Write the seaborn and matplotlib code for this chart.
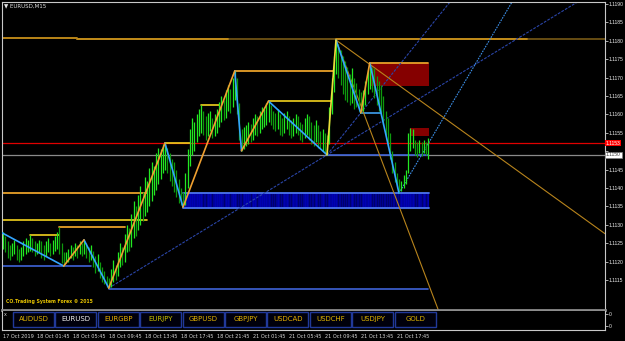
import matplotlib
matplotlib.use("Agg")
import numpy as np
import pandas as pd
import matplotlib.pyplot as plt
import matplotlib.transforms as mtransforms
from matplotlib import font_manager
from matplotlib.patches import Rectangle
import seaborn as sns

# ---------------- data ----------------
symbol_title = "EURUSD,M15"
base_price = 1.1100
pip = 0.0001

bar_high_pips = [
    28.0, 27.0, 25.5, 24.5, 25.0, 26.0, 24.5, 23.5, 24.0, 25.5, 26.5, 26.0,
    27.2, 26.5, 25.5, 25.0, 26.0, 25.5, 24.5, 25.5, 26.5, 25.0, 26.0, 27.0, 28.0, 29.4, 25.0, 22.5,
    22.5, 23.5, 24.5, 24.0, 25.0, 24.5, 25.5, 25.0, 26.0, 25.0, 24.0, 24.5, 23.0, 21.5, 22.0, 20.0, 18.5, 17.5, 16.0, 15.5,
    18.0, 20.5, 19.0, 22.5, 25.0, 24.0, 27.5, 30.0, 29.0, 33.0, 36.5, 35.0, 38.0, 40.5, 39.0, 43.0, 42.0, 45.5, 47.0, 46.0, 49.5, 51.0, 50.5, 52.0, 52.2,
    51.0, 49.5, 48.0, 47.0, 45.0, 42.5, 40.0, 39.0,
    44.0, 50.5, 56.0, 59.0, 58.0, 60.0, 61.5, 62.6, 61.0, 59.5, 60.5, 61.0, 59.0, 60.0, 61.5, 63.5, 65.0, 64.0, 66.5, 68.0, 67.0, 70.0, 71.8,
    70.0, 63.0, 56.0,
    56.5, 57.0, 58.0, 57.5, 59.0, 60.0, 59.5, 61.0, 62.0, 61.5, 63.0, 63.6,
    62.5, 61.0, 60.5, 61.5, 60.0, 59.0, 60.5, 61.0, 59.5, 58.5, 59.0, 60.0, 59.5, 58.0, 57.5, 59.0, 60.0, 59.5, 58.0, 57.0, 58.5, 57.0, 55.5, 56.0, 55.0, 54.5,
    62.0, 70.0, 76.0, 80.2,
    79.0, 77.5, 76.0, 74.5, 73.0, 71.0, 72.5, 70.0, 68.5, 67.0, 66.0,
    66.5, 69.0, 72.0, 74.0,
    73.0, 72.5, 70.5, 69.0, 68.0, 65.0, 61.0, 59.0, 55.0, 50.0, 47.0, 44.0, 42.5,
    42.0, 43.5, 45.0, 55.0, 56.3, 56.0, 53.0, 52.5, 53.0, 52.5, 53.0, 52.5, 53.5,
]
bar_low_pips = [
    23.5, 22.5, 21.0, 20.5, 21.5, 22.0, 20.5, 20.0, 20.5, 21.5, 22.0, 22.5,
    23.0, 22.5, 21.5, 22.0, 22.5, 21.0, 20.5, 21.5, 22.5, 21.5, 22.0, 23.0, 23.5, 22.0, 19.5, 18.8,
    19.5, 20.0, 21.0, 20.5, 21.5, 21.0, 22.0, 21.5, 22.0, 21.0, 20.0, 20.5, 18.5, 17.0, 17.5, 15.5, 14.5, 14.0, 13.2, 12.8,
    13.0, 14.5, 15.0, 16.0, 18.5, 19.0, 20.0, 22.5, 23.0, 24.0, 26.5, 27.0, 28.5, 30.0, 31.0, 32.5, 33.5, 35.0, 36.5, 38.0, 39.5, 41.0, 42.5, 44.0, 45.0,
    44.0, 42.0, 40.5, 39.0, 37.5, 36.0, 35.5, 34.8,
    35.5, 40.0, 46.0, 49.0, 50.0, 52.5, 54.0, 55.0, 54.5, 53.0, 54.0, 55.5, 53.5, 54.0, 55.0, 56.5, 58.0, 58.5, 59.0, 61.0, 60.5, 62.0, 64.0,
    60.0, 53.0, 50.1,
    50.5, 51.5, 52.0, 52.5, 53.0, 54.5, 54.0, 55.0, 56.0, 56.5, 57.0, 58.0,
    57.0, 56.0, 55.5, 56.0, 54.5, 54.0, 55.0, 56.0, 54.5, 53.5, 54.0, 55.0, 54.5, 53.0, 52.5, 53.5, 54.5, 53.0, 52.0, 51.5, 52.5, 51.0, 50.5, 50.0, 49.5, 49.0,
    52.0, 60.0, 66.0, 71.0,
    70.0, 68.0, 65.5, 64.0, 63.5, 62.5, 63.0, 61.5, 62.0, 61.0, 60.4,
    61.0, 62.5, 65.5, 67.0,
    66.0, 64.5, 62.5, 61.0, 60.0, 57.0, 54.5, 51.5, 48.0, 44.0, 41.5, 40.0, 38.6,
    39.2, 40.0, 41.0, 44.0, 50.0, 51.0, 49.0, 48.5, 49.5, 48.8, 49.5, 49.0, 48.0,
]

zigzag_bar = [-1, 27, 36, 47, 72, 80, 103, 106, 118, 144, 148, 159, 163, 176]
zigzag_pips = [28.0, 18.8, 25.9, 12.8, 52.2, 34.8, 71.8, 50.1, 63.6, 49.0, 80.2, 60.4, 74.0, 38.6]

level_from = [-1, 33, 33, 148, -1, 47, 144, 159, -1, -1, 12, 25, 72, 88, 103, 118, 163]
level_to = [33, 268, 100, 233, 39, 189, 189, 168, 64, 64, 25, 54, 83, 96, 147, 146, 189]
level_pips = [80.7, 80.4, 80.4, 80.4, 18.8, 12.6, 49.0, 60.4, 38.6, 31.3, 27.2, 29.4, 52.2, 62.6, 71.8, 63.6, 74.0]
level_style = ["gold", "brown", "gold", "gold", "blue", "blue", "blue", "lightblue",
               "orange", "yellow", "yellow", "orange", "yellow", "yellow", "orange", "yellow", "orange"]

trend_bar_a = [47, 144, 176, 148, 148]
trend_pips_a = [12.8, 49.0, 38.6, 80.2, 80.2]
trend_bar_b = [144, 159, 226, 260, 194]
trend_pips_b = [49.0, 60.4, 90.3, 30.9, 6.0]
trend_style = ["dash", "dash", "dot", "tan", "tan"]

zone_from = [163, 181, 80]
zone_to = [189, 189, 189]
zone_low_pips = [67.7, 54.1, 34.6]
zone_high_pips = [74.0, 56.3, 38.6]
zone_kind = ["supply", "supply", "demand"]

bid_pips = 52.2
bid_label = "1.1153"
ref_pips = 49.0
ref_label = "1.1150"

price_tick_labels = ["1.1115", "1.1120", "1.1125", "1.1130", "1.1135", "1.1140", "1.1145",
                     "1.1150", "1.1155", "1.1160", "1.1165", "1.1170", "1.1175", "1.1180",
                     "1.1185", "1.1190"]
time_tick_bars = [0, 15, 31, 47, 63, 79, 95, 111, 127, 143, 159, 175]
time_tick_labels = ["17 Oct 2019", "18 Oct 01:45", "18 Oct 05:45", "18 Oct 09:45", "18 Oct 13:45",
                    "18 Oct 17:45", "18 Oct 21:45", "21 Oct 01:45", "21 Oct 05:45", "21 Oct 09:45",
                    "21 Oct 13:45", "21 Oct 17:45"]
buttons = ["AUDUSD", "EURUSD", "EURGBP", "EURJPY", "GBPUSD", "GBPJPY", "USDCAD", "USDCHF", "USDJPY", "GOLD"]
button_text_colors = ["#E0B400", "#F0F0F0", "#E8B000", "#C8C000", "#E0B000", "#E0B000",
                      "#E8B000", "#E0B400", "#E0B400", "#E0B400"]
sub_tick_labels = ["0", "0"]
watermark = "CO.Trading System Forex \u00a9 2015"

# ---------------- styles ----------------
level_colors = {"gold": "#C8901A", "brown": "#6E5214", "blue": "#3F63D8", "lightblue": "#3FA0F0",
                "orange": "#E8A028", "yellow": "#F2D21E"}
trend_colors = {"dash": "#2A45A8", "dot": "#3C8EE6", "tan": "#B8841C"}
trend_ls = {"dash": (0, (2.5, 1.2)), "dot": (0, (1.5, 1.0)), "tan": "-"}

sns.set_theme(style="dark", rc={"axes.facecolor": "black", "figure.facecolor": "black"})
plt.rcParams["font.family"] = ["DejaVu Sans"]

installed = {f.name for f in font_manager.fontManager.ttflist}
if "Liberation Sans Narrow" in installed:
    axis_font, axis_size = "Liberation Sans Narrow", 4.2
elif "Liberation Sans" in installed:
    axis_font, axis_size = "Liberation Sans", 3.6
else:
    axis_font, axis_size = "DejaVu Sans", 3.2

W, H = 625, 341
def fx(px):
    return px / W
def fy(py):
    return 1 - py / H

fig = plt.figure(figsize=(W / 100, H / 100), dpi=100, facecolor="black")
ax = fig.add_axes([fx(2), fy(309.5), fx(605) - fx(2), fy(2) - fy(309.5)])
ax2 = fig.add_axes([fx(2), fy(329.5), fx(605) - fx(2), fy(311) - fy(329.5)])

def to_price(p):
    return base_price + np.asarray(p, dtype=float) * pip

xlim = (-1 / 2.25, -1 / 2.25 + 603 / 2.25)
for a in (ax, ax2):
    a.set_facecolor("black")
    a.set_xlim(*xlim)
    a.grid(False)
ax.set_ylim(base_price + 6.98 * pip, base_price + 90.54 * pip)

highs = to_price(bar_high_pips)
lows = to_price(bar_low_pips)
idx = np.arange(len(highs))
mids = (highs + lows) / 2
up = np.concatenate([[True], mids[1:] >= mids[:-1]])

# zones
for f, t, lo, hi, kind in zip(zone_from, zone_to, zone_low_pips, zone_high_pips, zone_kind):
    if kind == "supply":
        ax.add_patch(Rectangle((f, to_price(lo)), t + 0.4 - f, (hi - lo) * pip,
                               fc="#850000", ec="none", zorder=1))
    else:
        ax.add_patch(Rectangle((f, to_price(lo)), t + 0.4 - f, (hi - lo) * pip,
                               fc="#00009E", ec="none", zorder=1))
        m = (idx >= f) & (idx <= t)
        ax.vlines(idx[m], to_price(lo), to_price(hi),
                  colors=np.where(up[m], "#0000B4", "#00006C"), lw=0.9, zorder=1.1)
        for edge in (lo, hi):
            ax.plot([f, t + 0.4], [to_price(edge)] * 2, color="#4C74F0", lw=1.3, zorder=1.2)

# bid / reference lines
ax.axhline(to_price(bid_pips), color="#E00000", lw=0.9, zorder=1.5)
ax.axhline(to_price(ref_pips), color="#8A8A8A", lw=0.9, zorder=1.5)

# horizontal levels
for f, t, p, s in zip(level_from, level_to, level_pips, level_style):
    lw = 1.3 if s in ("gold", "brown", "orange") else 1.2
    ax.plot([f, t], [to_price(p)] * 2, color=level_colors[s], lw=lw, zorder=2)

# trend lines (extended to the right edge)
for xa, pa, xb, pb, s in zip(trend_bar_a, trend_pips_a, trend_bar_b, trend_pips_b, trend_style):
    slope = (pb - pa) / (xb - xa)
    xe = xlim[1]
    tl = pd.DataFrame({"bar": [xa, xe], "price": to_price([pa, pa + slope * (xe - xa)])})
    sns.lineplot(data=tl, x="bar", y="price", color=trend_colors[s], lw=0.8,
                 linestyle=trend_ls[s], estimator=None, sort=False, ax=ax, zorder=2)

# price bars
ax.vlines(idx, lows, highs, colors=np.where(up, "#22E822", "#0E9A0E"), lw=0.9, zorder=3)

# zigzag
rows = []
for k in range(len(zigzag_bar) - 1):
    d = "up" if zigzag_pips[k + 1] > zigzag_pips[k] else "down"
    if k == 9:
        d = "upy"
    for j in (k, k + 1):
        rows.append({"leg": k, "dir": d, "bar": zigzag_bar[j], "price": base_price + zigzag_pips[j] * pip})
zz = pd.DataFrame(rows)
sns.lineplot(data=zz, x="bar", y="price", hue="dir", units="leg", estimator=None, sort=False,
             palette={"up": "#F0A030", "down": "#33A6FF", "upy": "#EEDC3A"}, lw=1.2,
             legend=False, ax=ax, zorder=4)
ax.set_xlabel("")
ax.set_ylabel("")

# axes decoration (grid labels hidden behind the price boxes are left blank, as in MT4)
tick_vals = [float(s) for s in price_tick_labels]
box_prices = [to_price(bid_pips), to_price(ref_pips)]
shown_labels = [s if min(abs(v - b) for b in box_prices) > 2.5 * pip else "" for s, v in zip(price_tick_labels, tick_vals)]
ax.set_yticks(tick_vals)
ax.set_yticklabels(shown_labels, family=axis_font)
ax.yaxis.tick_right()
ax.tick_params(axis="y", direction="out", length=1.8, width=0.6, colors="#C8C8C8",
               labelcolor="#EEEEEE", labelsize=axis_size, pad=0.8)
ax.set_xticks([])
for side in ("left", "top", "right"):
    ax.spines[side].set_color("#C8C8C8")
    ax.spines[side].set_linewidth(0.8)
    ax.spines[side].set_visible(True)
ax.spines["bottom"].set_color("#8C8C8C")
ax.spines["bottom"].set_linewidth(2.0)
ax.spines["bottom"].set_visible(True)

trans = mtransforms.blended_transform_factory(ax.transAxes, ax.transData)
ax.text(1.0015, to_price(bid_pips), bid_label, transform=trans, ha="left", va="center",
        fontsize=axis_size, family=axis_font, color="white", zorder=6, clip_on=False,
        bbox=dict(boxstyle="square,pad=0.15", fc="#FF0000", ec="none"))
ax.text(1.0015, to_price(ref_pips), ref_label, transform=trans, ha="left", va="center",
        fontsize=axis_size, family=axis_font, color="#404040", zorder=6, clip_on=False,
        bbox=dict(boxstyle="square,pad=0.15", fc="white", ec="#808080", lw=0.5))

# sub window
ax2.set_ylim(0, 1)
ax2.set_yticks([0.84, 0.19])
ax2.set_yticklabels(sub_tick_labels, family=axis_font)
ax2.yaxis.tick_right()
ax2.tick_params(axis="y", direction="out", length=1.8, width=0.6, colors="#C8C8C8",
                labelcolor="#EEEEEE", labelsize=axis_size, pad=0.8)
ax2.set_xticks(time_tick_bars)
ax2.set_xticklabels(time_tick_labels)
ax2.tick_params(axis="x", direction="out", length=2.5, width=0.6, colors="#A0A0A0",
                labelcolor="#D8D8D8", labelsize=3.6, pad=0.8)
for lab in ax2.get_xticklabels():
    lab.set_ha("left")
for side in ("left", "bottom", "right"):
    ax2.spines[side].set_color("#C8C8C8")
    ax2.spines[side].set_linewidth(0.8)
    ax2.spines[side].set_visible(True)
ax2.spines["top"].set_visible(False)

# buttons
for k, (name, col) in enumerate(zip(buttons, button_text_colors)):
    x0 = 13 + k * 42.4
    fig.add_artist(Rectangle((fx(x0), fy(327)), 41 / W, 15.5 / H, transform=fig.transFigure,
                             fc="#00000C", ec="#21399A", lw=1.0))
    fig.text(fx(x0 + 20.5), fy(319.2), name, ha="center", va="center", fontsize=5.0, color=col)
fig.text(fx(3.5), fy(315), "x", ha="left", va="center", fontsize=3.5, color="#D0D0D0")

# texts
fig.text(fx(3.5), fy(6), "\u25bc " + symbol_title, ha="left", va="center", fontsize=4.0, color="#E0E0E0")
fig.text(fx(5.5), fy(301), watermark, ha="left", va="center", fontsize=3.3, color="#E8C400",
         fontweight="bold")

fig.savefig("out.png", dpi=100, facecolor="black")
